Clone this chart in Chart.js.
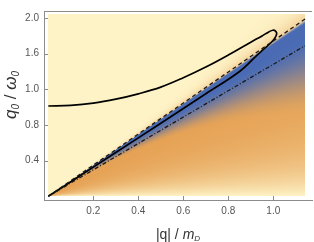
<!DOCTYPE html>
<html>
<head>
<meta charset="utf-8">
<script src="https://cdn.jsdelivr.net/npm/chart.js@4"></script>
<style>
  html, body { margin: 0; padding: 0; background: #fff; }
  #wrap { width: 314px; height: 242px; }
</style>
</head>
<body>
<div id="wrap"><canvas id="chart" width="314" height="242"></canvas></div>
<script>
// light cone (dashed) and the dash-dotted line, both from the origin
const coneQ = [0, 1.141];
const coneQ0 = [0, 1.99];
const dashDotQ = [0, 1.141];
const dashDotQ0 = [0, 1.69];

// closed dispersion curve, walked from q = 0 along the upper branch, round the tip, back to the origin
const loopQ =  [0, 0.1, 0.2, 0.3, 0.4, 0.5, 0.6, 0.7, 0.8, 0.9, 0.95, 0.98, 0.998, 1.011, 1.015, 1.006, 0.986, 0.955, 0.92, 0.85, 0.7, 0.5, 0.3, 0.1, 0];
const loopQ0 = [1.013, 1.02, 1.045, 1.09, 1.15, 1.225, 1.33, 1.45, 1.585, 1.73, 1.80, 1.845, 1.864, 1.852, 1.822, 1.772, 1.715, 1.645, 1.565, 1.40, 1.15, 0.82, 0.49, 0.163, 0];

// extent of the density plot
const qMax = 1.141;
const q0Max = 2.048;

// ticks
const xTicks = [0.2, 0.4, 0.6, 0.8, 1.0];
const xTickLabels = ['0.2', '0.4', '0.6', '0.8', '1.0'];
const yTicks = [0.4, 0.8, 1.2, 1.6, 2.0];
const yTickLabels = ['0.4', '0.8', '1.0', '1.6', '2.0'];

const toPoints = (xs, ys) => xs.map((v, i) => ({ x: v, y: ys[i] }));

const coneSlope = coneQ0[1] / coneQ[1];
const pale = [254, 243, 199];
const fringe = [244, 210, 155];
const blue = [72, 106, 180];
const orange = [229, 160, 82];

const mix = (a, b, t) => [a[0] + (b[0] - a[0]) * t, a[1] + (b[1] - a[1]) * t, a[2] + (b[2] - a[2]) * t];
const smooth = (e0, e1, v) => {
  const t = Math.min(1, Math.max(0, (v - e0) / (e1 - e0)));
  return t * t * (3 - 2 * t);
};

function shade(q, q0) {
  const r = q > 0 ? q0 / (coneSlope * q) : 10;
  if (r >= 1) {
    const t = Math.exp(-(r - 1) / (0.012 + 0.05 * q));
    return mix(pale, fringe, t);
  }
  const s = 1 - r;
  const w = 0.06 + 0.25 * q;
  let c = mix(blue, orange, smooth(w * 0.3, w * 1.6, s));
  c = mix(fringe, c, smooth(0, w * 0.08, s));
  const f = 1 - Math.exp(-r / 0.2);
  return mix(pale, c, f);
}

const densityPlugin = {
  id: 'density',
  beforeDatasetsDraw(chart) {
    const { ctx, scales: { x, y } } = chart;
    const x0 = Math.round(x.getPixelForValue(0));
    const x1 = Math.round(x.getPixelForValue(qMax));
    const y0 = Math.round(y.getPixelForValue(q0Max));
    const y1 = Math.round(y.getPixelForValue(0));
    const w = x1 - x0, h = y1 - y0;
    const img = ctx.createImageData(w, h);
    for (let j = 0; j < h; j++) {
      const yv = y.getValueForPixel(y0 + j + 0.5);
      for (let i = 0; i < w; i++) {
        const xv = x.getValueForPixel(x0 + i + 0.5);
        const c = shade(xv, yv);
        const k = (j * w + i) * 4;
        img.data[k] = c[0];
        img.data[k + 1] = c[1];
        img.data[k + 2] = c[2];
        img.data[k + 3] = 255;
      }
    }
    ctx.putImageData(img, x0, y0);
  }
};

function drawRich(ctx, parts, cx, baseline) {
  let total = 0;
  parts.forEach(p => { ctx.font = p.font; p.w = ctx.measureText(p.t).width; total += p.w; });
  let px = cx - total / 2;
  parts.forEach(p => {
    ctx.font = p.font;
    ctx.fillText(p.t, px, baseline + (p.dy || 0));
    px += p.w;
  });
}

const frameColor = '#8c8c8c';
const fam = '"Liberation Sans", Arial, sans-serif';

const framePlugin = {
  id: 'frame',
  afterDraw(chart) {
    const { ctx, chartArea: a, scales: { x, y } } = chart;
    ctx.save();
    ctx.strokeStyle = frameColor;
    ctx.lineWidth = 1;
    ctx.beginPath();
    ctx.moveTo(a.left, a.top + 0.5);
    ctx.lineTo(a.right, a.top + 0.5);
    xTicks.forEach(v => {
      const px = Math.round(x.getPixelForValue(v)) + 0.5;
      ctx.moveTo(px, a.bottom);
      ctx.lineTo(px, a.bottom - 4);
    });
    yTicks.forEach(v => {
      const py = Math.round(y.getPixelForValue(v)) + 0.5;
      ctx.moveTo(a.left, py);
      ctx.lineTo(a.left + 4, py);
    });
    ctx.stroke();

    ctx.fillStyle = '#333';
    ctx.textAlign = 'left';
    ctx.textBaseline = 'alphabetic';
    drawRich(ctx, [
      { t: '|q| / ', font: '14px ' + fam },
      { t: 'm', font: 'italic 14px ' + fam },
      { t: 'D', font: 'italic 8px ' + fam, dy: 2 }
    ], 178, 239);

    ctx.translate(16, 95);
    ctx.rotate(-Math.PI / 2);
    drawRich(ctx, [
      { t: 'q', font: 'italic 17px ' + fam },
      { t: '0', font: 'italic 10px ' + fam, dy: 3 },
      { t: ' / ', font: '17px ' + fam },
      { t: 'ω', font: 'italic 17px ' + fam },
      { t: '0', font: 'italic 10px ' + fam, dy: 3 }
    ], 0, 0);
    ctx.restore();
  }
};

new Chart(document.getElementById('chart'), {
  type: 'scatter',
  data: {
    datasets: [
      {
        data: toPoints(coneQ, coneQ0),
        showLine: true,
        borderColor: '#1a1a1a',
        borderWidth: 1.3,
        borderDash: [4, 3],
        pointRadius: 0
      },
      {
        data: toPoints(dashDotQ, dashDotQ0),
        showLine: true,
        borderColor: '#1a1a1a',
        borderWidth: 1.3,
        borderDash: [4, 2, 1, 2],
        pointRadius: 0
      },
      {
        data: toPoints(loopQ, loopQ0),
        showLine: true,
        borderColor: '#000',
        borderWidth: 1.7,
        tension: 0.4,
        pointRadius: 0
      }
    ]
  },
  options: {
    responsive: false,
    animation: false,
    layout: { padding: { left: 0, top: 1, right: 2, bottom: 0 } },
    plugins: {
      legend: { display: false },
      tooltip: { enabled: false }
    },
    scales: {
      x: {
        type: 'linear',
        min: -0.0191,
        max: 1.172,
        grid: { display: false, drawTicks: false },
        border: { display: true, color: frameColor, width: 1 },
        afterBuildTicks: s => { s.ticks = xTicks.map(v => ({ value: v })); },
        afterFit: s => { s.height = 42; },
        ticks: {
          padding: 5,
          color: '#555',
          font: { family: fam, size: 10 },
          callback: v => xTickLabels[xTicks.indexOf(v)]
        }
      },
      y: {
        type: 'linear',
        min: -0.0427,
        max: 2.08,
        grid: { display: false, drawTicks: false },
        border: { display: true, color: frameColor, width: 1 },
        afterBuildTicks: s => { s.ticks = yTicks.map(v => ({ value: v })); },
        afterFit: s => { s.width = 44; },
        ticks: {
          padding: 5,
          color: '#555',
          font: { family: fam, size: 10 },
          callback: v => yTickLabels[yTicks.indexOf(v)]
        }
      }
    }
  },
  plugins: [densityPlugin, framePlugin]
});
</script>
</body>
</html>
